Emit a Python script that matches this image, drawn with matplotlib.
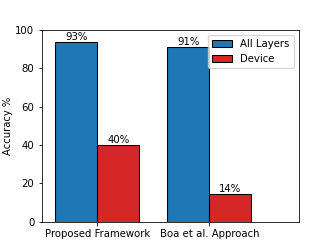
import matplotlib
matplotlib.use("Agg")
import matplotlib.pyplot as plt
import numpy as np

categories = ["Proposed Framework", "Boa et al. Approach"]
all_layers = [93.5, 91.1]
device = [40.2, 14.6]
all_labels = ["93%", "91%"]
device_labels = ["40%", "14%"]
yticks = [0, 20, 40, 60, 80, 100]

s = 0.72
fs = 7.3
plt.rcParams["axes.linewidth"] = 0.8 * s
fig = plt.figure(figsize=(3.32, 2.49), dpi=100)
ax = fig.add_subplot(111)
x = np.arange(len(categories))
w = 0.375
b1 = ax.bar(x - w / 2, all_layers, w, color="#1f77b4", edgecolor="black", linewidth=0.75, label="All Layers")
b2 = ax.bar(x + w / 2, device, w, color="#d62728", edgecolor="black", linewidth=0.75, label="Device")
for bars, labs in ((b1, all_labels), (b2, device_labels)):
    for r, t in zip(bars, labs):
        ax.text(r.get_x() + r.get_width() / 2, r.get_height(), t, ha="center", va="bottom", fontsize=fs)
ax.set_xticks(x)
ax.set_xticklabels(categories, fontsize=fs)
ax.set_yticks(yticks)
ax.tick_params(axis="both", labelsize=fs, length=3.5 * s, pad=3.5 * s, width=0.8 * s)
ax.set_ylim(0, 100)
ax.set_xlim(-0.5, 1.8)
ax.set_ylabel("Accuracy %", fontsize=7.2, labelpad=1.5)
ax.legend(loc="upper right", fontsize=fs, handlelength=2.0, borderaxespad=0.5 * s * 1.4)
fig.savefig("out.png", dpi=100)
